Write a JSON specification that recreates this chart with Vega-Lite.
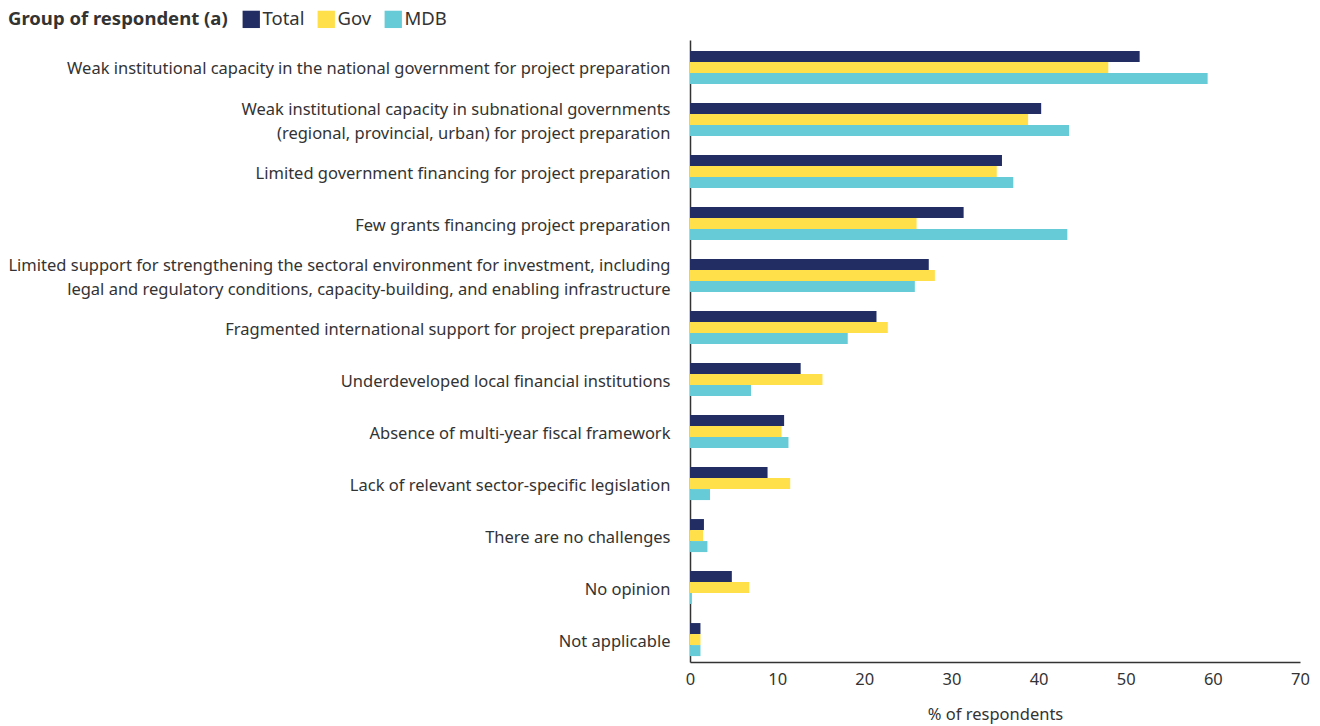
{
  "$schema": "https://vega.github.io/schema/vega-lite/v6.json",
  "width": 610,
  "height": 622,
  "autosize": {"type": "none"},
  "padding": {"left": 690, "top": 40, "right": 20, "bottom": 64},
  "config": {
    "view": {"stroke": null},
    "font": "Noto Sans",
    "axis": {"labelFont": "Noto Sans", "titleFont": "Noto Sans", "labelColor": "#333333", "titleColor": "#333333"}
  },
  "data": {
    "values": [
      {"c": "Weak institutional capacity in the national government for project preparation", "g": "Total", "v": 51.6},
      {"c": "Weak institutional capacity in the national government for project preparation", "g": "Gov", "v": 48.0},
      {"c": "Weak institutional capacity in the national government for project preparation", "g": "MDB", "v": 59.4},
      {"c": "Weak institutional capacity in subnational governments|(regional, provincial, urban) for project preparation", "g": "Total", "v": 40.3},
      {"c": "Weak institutional capacity in subnational governments|(regional, provincial, urban) for project preparation", "g": "Gov", "v": 38.8},
      {"c": "Weak institutional capacity in subnational governments|(regional, provincial, urban) for project preparation", "g": "MDB", "v": 43.5},
      {"c": "Limited government financing for project preparation", "g": "Total", "v": 35.8},
      {"c": "Limited government financing for project preparation", "g": "Gov", "v": 35.2},
      {"c": "Limited government financing for project preparation", "g": "MDB", "v": 37.1},
      {"c": "Few grants financing project preparation", "g": "Total", "v": 31.4},
      {"c": "Few grants financing project preparation", "g": "Gov", "v": 26.0},
      {"c": "Few grants financing project preparation", "g": "MDB", "v": 43.3},
      {"c": "Limited support for strengthening the sectoral environment for investment, including|legal and regulatory conditions, capacity-building, and enabling infrastructure", "g": "Total", "v": 27.4},
      {"c": "Limited support for strengthening the sectoral environment for investment, including|legal and regulatory conditions, capacity-building, and enabling infrastructure", "g": "Gov", "v": 28.1},
      {"c": "Limited support for strengthening the sectoral environment for investment, including|legal and regulatory conditions, capacity-building, and enabling infrastructure", "g": "MDB", "v": 25.8},
      {"c": "Fragmented international support for project preparation", "g": "Total", "v": 21.4},
      {"c": "Fragmented international support for project preparation", "g": "Gov", "v": 22.7},
      {"c": "Fragmented international support for project preparation", "g": "MDB", "v": 18.1},
      {"c": "Underdeveloped local financial institutions", "g": "Total", "v": 12.7},
      {"c": "Underdeveloped local financial institutions", "g": "Gov", "v": 15.2},
      {"c": "Underdeveloped local financial institutions", "g": "MDB", "v": 7.0},
      {"c": "Absence of multi-year fiscal framework", "g": "Total", "v": 10.8},
      {"c": "Absence of multi-year fiscal framework", "g": "Gov", "v": 10.5},
      {"c": "Absence of multi-year fiscal framework", "g": "MDB", "v": 11.3},
      {"c": "Lack of relevant sector-specific legislation", "g": "Total", "v": 8.9},
      {"c": "Lack of relevant sector-specific legislation", "g": "Gov", "v": 11.5},
      {"c": "Lack of relevant sector-specific legislation", "g": "MDB", "v": 2.3},
      {"c": "There are no challenges", "g": "Total", "v": 1.6},
      {"c": "There are no challenges", "g": "Gov", "v": 1.5},
      {"c": "There are no challenges", "g": "MDB", "v": 2.0},
      {"c": "No opinion", "g": "Total", "v": 4.8},
      {"c": "No opinion", "g": "Gov", "v": 6.8},
      {"c": "No opinion", "g": "MDB", "v": 0.2},
      {"c": "Not applicable", "g": "Total", "v": 1.2},
      {"c": "Not applicable", "g": "Gov", "v": 1.2},
      {"c": "Not applicable", "g": "MDB", "v": 1.2}
    ]
  },
  "mark": {"type": "bar"},
  "encoding": {
    "y": {
      "field": "c", "type": "nominal", "sort": null,
      "scale": {"paddingInner": 0.365, "paddingOuter": 0.1625, "align": 0.65},
      "axis": {
        "title": null, "ticks": false, "labelFontSize": 16.5, "labelPadding": 20,
        "labelLimit": 800, "labelExpr": "split(datum.label, '|')", "labelLineHeight": 24,
        "labelOffset": {"condition": {"test": "indexof(datum.label, '|') >= 0", "value": -10}, "value": 2},
        "domainColor": "#333333", "domainWidth": 1.5
      }
    },
    "yOffset": {"field": "g", "type": "nominal", "sort": ["Total", "Gov", "MDB"], "scale": {"paddingInner": 0, "paddingOuter": 0}},
    "x": {
      "field": "v", "type": "quantitative",
      "scale": {"domain": [0, 70], "nice": false},
      "axis": {
        "title": "% of respondents", "titleFontSize": 16.5, "titleFontWeight": "normal", "titlePadding": 19,
        "values": [0, 10, 20, 30, 40, 50, 60, 70], "grid": false, "ticks": false,
        "labelFontSize": 16.5, "labelPadding": 9, "domainColor": "#333333", "domainWidth": 1.5,
        "labelFlush": false
      }
    },
    "color": {
      "field": "g", "type": "nominal",
      "sort": ["Total", "Gov", "MDB"],
      "scale": {"domain": ["Total", "Gov", "MDB"], "range": ["#212d63", "#ffe04b", "#66cbd6"]},
      "legend": {
        "title": "Group of respondent (a)", "orient": "none", "direction": "horizontal",
        "legendX": -682, "legendY": -30, "titleOrient": "left", "titleLimit": 500,
        "titleFontSize": 18.5, "titleFontWeight": "bold", "titleColor": "#333333", "titlePadding": 14,
        "labelFontSize": 18.5, "labelColor": "#333333", "symbolType": "square", "symbolSize": 300,
        "symbolStrokeWidth": 0, "columnPadding": 12, "labelOffset": 2
      }
    }
  }
}
